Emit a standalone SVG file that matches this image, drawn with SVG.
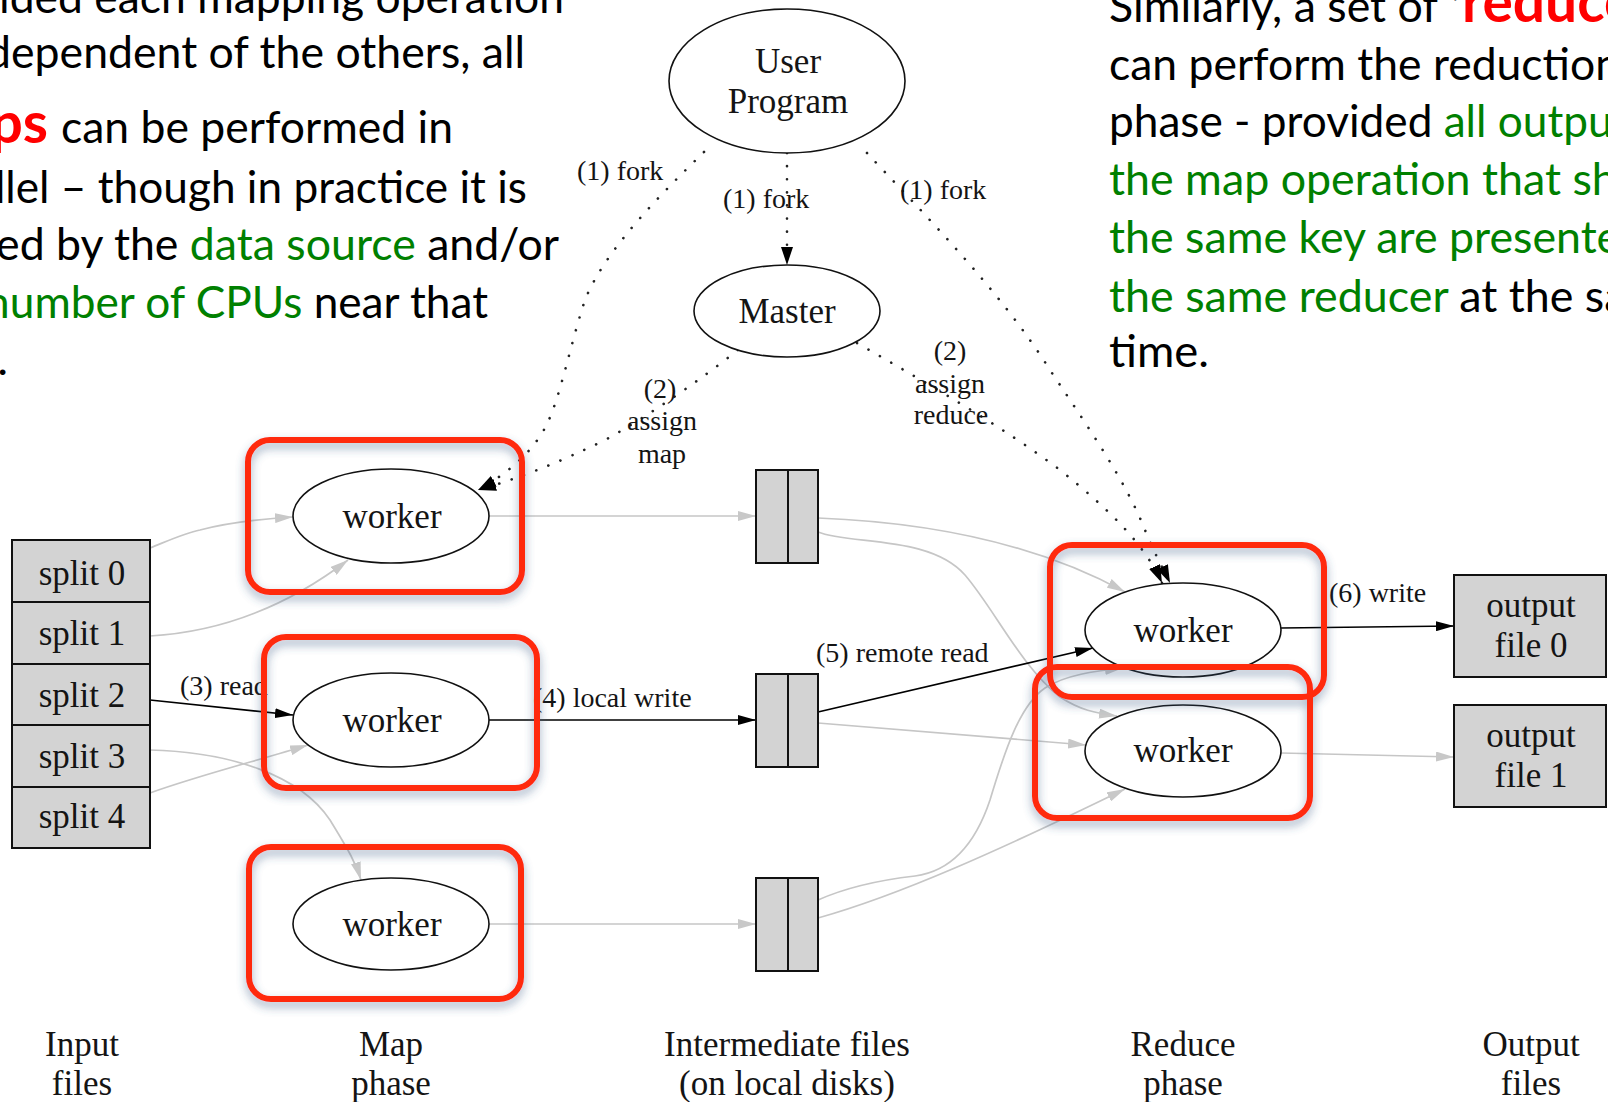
<svg xmlns="http://www.w3.org/2000/svg" width="1608" height="1102" viewBox="0 0 1608 1102">
  <style>
    .slide { font-family: Lato, "Open Sans", sans-serif; font-size: 45px; fill: #000; }
    .green { fill: #008000; }
    .red { font-family: Lato, "Open Sans", sans-serif; font-weight: bold; font-size: 57px; fill: #ff0000; }
    .lbl { font-family: "Liberation Serif", "Times New Roman", serif; fill: #141414; }
    .nt { font-size: 35px; text-anchor: middle; }
    .et { font-size: 28px; }
    .etm { font-size: 28px; text-anchor: middle; }
    .ell { fill: #fff; stroke: #111; stroke-width: 1.6; }
    .box { fill: #d3d3d3; stroke: #111; stroke-width: 2; }
    .e-black { fill: none; stroke: #000; stroke-width: 1.7; }
    .e-gray { fill: none; stroke: #c6c6c6; stroke-width: 1.7; }
    .e-dot { fill: none; stroke: #222; stroke-width: 2.6; stroke-linecap: round; stroke-dasharray: 0.1 13; }
    .hl { fill: none; stroke: #ff2a0a; stroke-width: 6; }
  </style>
  <defs>
    <marker id="ah-black" viewBox="0 0 18 10" refX="18" refY="5" markerWidth="18" markerHeight="10" markerUnits="userSpaceOnUse" orient="auto">
      <path d="M0,0 L18,5 L0,10 z" fill="#000"/>
    </marker>
    <marker id="ah-gray" viewBox="0 0 18 10" refX="18" refY="5" markerWidth="18" markerHeight="10" markerUnits="userSpaceOnUse" orient="auto">
      <path d="M0,0 L18,5 L0,10 z" fill="#c8c8c8"/>
    </marker>
    <marker id="ah-dot" viewBox="0 0 18 12" refX="18" refY="6" markerWidth="18" markerHeight="12" markerUnits="userSpaceOnUse" orient="auto">
      <path d="M0,0 L18,6 L0,12 z" fill="#000"/>
    </marker>
    <filter id="hl-shadow" x="-15%" y="-15%" width="130%" height="140%">
      <feGaussianBlur in="SourceAlpha" stdDeviation="5" result="b"/>
      <feOffset in="b" dy="5" result="o"/>
      <feFlood flood-color="#3a5a85" flood-opacity="0.5"/>
      <feComposite in2="o" operator="in" result="s"/>
      <feMerge><feMergeNode in="s"/><feMergeNode in="SourceGraphic"/></feMerge>
    </filter>
  </defs>

  <!-- slide text, left column -->
  <g id="text-left">
    <text class="slide" x="-90" y="13" textLength="654" lengthAdjust="spacingAndGlyphs">Provided each mapping operation</text>
    <text class="slide" x="-91" y="68" textLength="616" lengthAdjust="spacingAndGlyphs">is independent of the others, all</text>
    <text class="red" x="-87" y="143" textLength="135" lengthAdjust="spacingAndGlyphs">maps</text>
    <text class="slide" x="61" y="143" textLength="392" lengthAdjust="spacingAndGlyphs">can be performed in</text>
    <text class="slide" x="-89.5" y="203" textLength="616.5" lengthAdjust="spacingAndGlyphs">parallel – though in practice it is</text>
    <text class="slide" x="-88.5" y="260" textLength="647.5" lengthAdjust="spacingAndGlyphs">limited by the <tspan class="green">data source</tspan> and/or</text>
    <text class="slide" x="-90" y="318" textLength="578" lengthAdjust="spacingAndGlyphs">the <tspan class="green">number of CPUs</tspan> near that</text>
    <text class="slide" x="-90" y="375" textLength="98" lengthAdjust="spacingAndGlyphs">data.</text>
  </g>

  <!-- slide text, right column -->
  <g id="text-right">
    <text class="slide" x="1109" y="22" textLength="329" lengthAdjust="spacingAndGlyphs">Similarly, a set of</text>
    <text class="slide" x="1451" y="22">‘</text>
    <text class="red" x="1462" y="22" textLength="231" lengthAdjust="spacingAndGlyphs">reducers’</text>
    <text class="slide" x="1109" y="80" textLength="511" lengthAdjust="spacingAndGlyphs">can perform the reduction</text>
    <text class="slide" x="1109" y="137" textLength="590" lengthAdjust="spacingAndGlyphs">phase - provided <tspan class="green">all outputs of</tspan></text>
    <text class="slide green" x="1109" y="195" textLength="569" lengthAdjust="spacingAndGlyphs">the map operation that share</text>
    <text class="slide green" x="1109" y="253" textLength="589" lengthAdjust="spacingAndGlyphs">the same key are presented to</text>
    <text class="slide" x="1109" y="312" textLength="578" lengthAdjust="spacingAndGlyphs"><tspan class="green">the same reducer</tspan> at the same</text>
    <text class="slide" x="1109" y="367" textLength="100" lengthAdjust="spacingAndGlyphs">time.</text>
  </g>

  <!-- connectors -->
  <g id="connectors">
    <!-- control flow (dotted) -->
    <path class="e-dot" d="M704,152 C660,195 605,250 585,300 C570,345 560,400 545,428 C530,455 505,475 478,490" marker-end="url(#ah-dot)"/>
    <path class="e-dot" d="M738,350 C700,380 650,415 605,440 C560,462 520,478 478,490" marker-end="url(#ah-dot)"/>
    <path class="e-dot" d="M787,153 L787,265" marker-end="url(#ah-dot)"/>
    <path class="e-dot" d="M867,153 C920,210 1000,290 1050,370 C1090,430 1125,480 1145,530 C1155,555 1164,570 1170,583" marker-end="url(#ah-dot)"/>
    <path class="e-dot" d="M857,343 C930,385 1000,425 1060,470 C1110,510 1145,545 1162,583" marker-end="url(#ah-dot)"/>

    <!-- input splits to map workers -->
    <path class="e-gray" d="M150,548 C170,540 185,533 200,530 C230,522 260,519 293,517" marker-end="url(#ah-gray)"/>
    <path class="e-gray" d="M150,636 C220,632 285,608 348,560" marker-end="url(#ah-gray)"/>
    <path class="e-black" d="M150,700 L293,715" marker-end="url(#ah-black)"/>
    <path class="e-gray" d="M150,750 C230,752 300,775 330,820 C345,845 355,860 361,880" marker-end="url(#ah-gray)"/>
    <path class="e-gray" d="M150,793 C200,775 260,760 308,745" marker-end="url(#ah-gray)"/>

    <!-- map workers to intermediate files -->
    <path class="e-gray" d="M489,516 L756,516" marker-end="url(#ah-gray)"/>
    <path class="e-black" d="M489,720 L756,720" marker-end="url(#ah-black)"/>
    <path class="e-gray" d="M489,924 L756,924" marker-end="url(#ah-gray)"/>

    <!-- intermediate files to reduce workers -->
    <path class="e-gray" d="M818,518 C920,522 1030,540 1125,592" marker-end="url(#ah-gray)"/>
    <path class="e-gray" d="M818,532 C850,545 930,535 965,575 C995,610 1020,665 1060,697 C1080,710 1095,713 1117,716" marker-end="url(#ah-gray)"/>
    <path class="e-black" d="M818,712 L1093,648" marker-end="url(#ah-black)"/>
    <path class="e-gray" d="M818,723 L1086,745" marker-end="url(#ah-gray)"/>
    <path class="e-gray" d="M818,900 C845,888 880,880 915,876 C960,870 980,830 990,800 C1005,750 1020,705 1045,688 C1065,675 1095,671 1123,668" marker-end="url(#ah-gray)"/>
    <path class="e-gray" d="M818,918 C900,895 1000,850 1125,789" marker-end="url(#ah-gray)"/>

    <!-- reduce workers to output files -->
    <path class="e-black" d="M1281,628 L1454,626" marker-end="url(#ah-black)"/>
    <path class="e-gray" d="M1281,753 L1454,757" marker-end="url(#ah-gray)"/>
  </g>

  <!-- connector labels -->
  <g id="edge-labels" class="lbl">
    <text class="et" x="577" y="180">(1) fork</text>
    <text class="et" x="723" y="208">(1) fork</text>
    <text class="et" x="900" y="199">(1) fork</text>
    <text class="etm" x="660" y="398">(2)</text>
    <text class="etm" x="662" y="430">assign</text>
    <text class="etm" x="662" y="463">map</text>
    <text class="etm" x="950" y="360">(2)</text>
    <text class="etm" x="950" y="393">assign</text>
    <text class="etm" x="951" y="424">reduce</text>
    <text class="et" x="180" y="695">(3) read</text>
    <text class="et" x="533" y="707">(4) local write</text>
    <text class="et" x="816" y="662">(5) remote read</text>
    <text class="et" x="1329" y="602">(6) write</text>
  </g>

  <!-- nodes -->
  <g id="user-program" class="lbl">
    <ellipse class="ell" cx="787" cy="81" rx="118" ry="72"/>
    <text class="nt" x="788" y="73">User</text>
    <text class="nt" x="788" y="113">Program</text>
  </g>
  <g id="master" class="lbl">
    <ellipse class="ell" cx="787" cy="311" rx="93" ry="46"/>
    <text class="nt" x="787" y="323">Master</text>
  </g>

  <g id="input-files" class="lbl">
    <rect class="box" x="12" y="540" width="138" height="62"/>
    <rect class="box" x="12" y="602" width="138" height="62"/>
    <rect class="box" x="12" y="664" width="138" height="61"/>
    <rect class="box" x="12" y="725" width="138" height="62"/>
    <rect class="box" x="12" y="787" width="138" height="61"/>
    <text class="nt" x="82" y="585">split 0</text>
    <text class="nt" x="82" y="645">split 1</text>
    <text class="nt" x="82" y="707">split 2</text>
    <text class="nt" x="82" y="768">split 3</text>
    <text class="nt" x="82" y="828">split 4</text>
  </g>

  <g id="map-worker-1" class="lbl">
    <ellipse class="ell" cx="391" cy="516" rx="98" ry="47"/>
    <text class="nt" x="392" y="528">worker</text>
  </g>
  <g id="map-worker-2" class="lbl">
    <ellipse class="ell" cx="391" cy="720" rx="98" ry="47"/>
    <text class="nt" x="392" y="732">worker</text>
  </g>
  <g id="map-worker-3" class="lbl">
    <ellipse class="ell" cx="391" cy="924" rx="98" ry="46"/>
    <text class="nt" x="392" y="936">worker</text>
  </g>

  <g id="intermediate-1">
    <rect class="box" x="756" y="470" width="62" height="93"/>
    <line x1="788" y1="470" x2="788" y2="563" stroke="#111" stroke-width="2"/>
  </g>
  <g id="intermediate-2">
    <rect class="box" x="756" y="674" width="62" height="93"/>
    <line x1="788" y1="674" x2="788" y2="767" stroke="#111" stroke-width="2"/>
  </g>
  <g id="intermediate-3">
    <rect class="box" x="756" y="878" width="62" height="93"/>
    <line x1="788" y1="878" x2="788" y2="971" stroke="#111" stroke-width="2"/>
  </g>

  <g id="reduce-worker-1" class="lbl">
    <ellipse class="ell" cx="1183" cy="630" rx="98" ry="47"/>
    <text class="nt" x="1183" y="642">worker</text>
  </g>
  <g id="reduce-worker-2" class="lbl">
    <ellipse class="ell" cx="1183" cy="751" rx="98" ry="46"/>
    <text class="nt" x="1183" y="762">worker</text>
  </g>

  <g id="output-file-0" class="lbl">
    <rect class="box" x="1454" y="575" width="152" height="102"/>
    <text class="nt" x="1531" y="617">output</text>
    <text class="nt" x="1531" y="657">file 0</text>
  </g>
  <g id="output-file-1" class="lbl">
    <rect class="box" x="1454" y="705" width="152" height="102"/>
    <text class="nt" x="1531" y="747">output</text>
    <text class="nt" x="1531" y="787">file 1</text>
  </g>

  <!-- column captions -->
  <g id="captions" class="lbl">
    <text class="nt" x="82" y="1056">Input</text>
    <text class="nt" x="82" y="1095">files</text>
    <text class="nt" x="391" y="1056">Map</text>
    <text class="nt" x="391" y="1095">phase</text>
    <text class="nt" x="787" y="1056">Intermediate files</text>
    <text class="nt" x="787" y="1095">(on local disks)</text>
    <text class="nt" x="1183" y="1056">Reduce</text>
    <text class="nt" x="1183" y="1095">phase</text>
    <text class="nt" x="1531" y="1056">Output</text>
    <text class="nt" x="1531" y="1095">files</text>
  </g>

  <!-- highlight frames around the workers -->
  <g id="highlights" filter="url(#hl-shadow)">
    <rect class="hl" x="248" y="440" width="274" height="152" rx="22"/>
    <rect class="hl" x="264" y="637" width="273" height="151" rx="22"/>
    <rect class="hl" x="249" y="847" width="272" height="152" rx="22"/>
    <rect class="hl" x="1050" y="545" width="274" height="152" rx="22"/>
    <rect class="hl" x="1035" y="667" width="275" height="151" rx="22"/>
  </g>
</svg>
